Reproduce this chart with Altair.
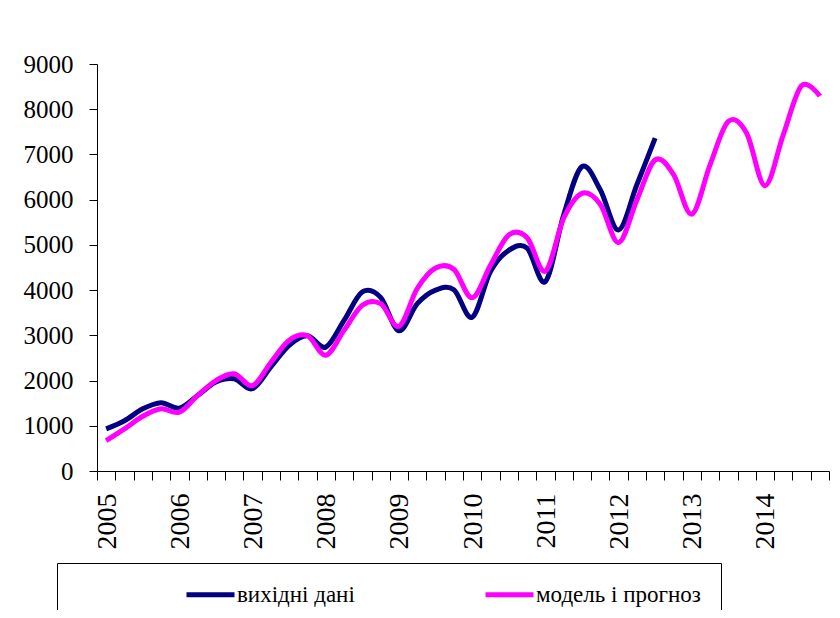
import altair as alt
import pandas as pd

# Quarterly series, 2005 Q1 .. 2014 Q4
years = list(range(2005, 2015))
quarters = ["I", "II", "III", "IV"]
series_names = ["вихідні дані", "модель і прогноз"]

actual = [930, 1110, 1375, 1510, 1390, 1670, 1970, 2040, 1820, 2300,
          2780, 2990, 2740, 3330, 3960, 3840, 3100, 3700, 4000, 4010,
          3400, 4410, 4880, 4930, 4190, 5660, 6730, 6220, 5330, 6330,
          7360]

model = [670, 930, 1210, 1375, 1300, 1670, 2000, 2150, 1890, 2400,
         2890, 2990, 2560, 3110, 3665, 3700, 3200, 4035, 4490, 4460,
         3830, 4550, 5220, 5160, 4420, 5590, 6140, 5900, 5050, 5990,
         6880, 6560, 5680, 6770, 7730, 7470, 6310, 7435, 8520, 8290]

periods = [f"{y} {q}" for y in years for q in quarters]

df_a = pd.DataFrame({"t": range(len(actual)), "period": periods[:len(actual)],
                     "value": actual, "series": series_names[0]})
df_m = pd.DataFrame({"t": range(len(model)), "period": periods[:len(model)],
                     "value": model, "series": series_names[1]})

n = len(periods)
tick_vals = [i - 0.5 for i in range(n + 1)]
label_expr = ("((datum.value + 0.5) % 4 == 0 && datum.value < " + str(n - 1) +
              ") ? '' + (" + str(years[0]) + " + (datum.value + 0.5) / 4) : ''")

FONT = "Liberation Serif, DejaVu Serif, serif"

x = alt.X("t:Q",
          scale=alt.Scale(domain=[-0.5, n - 0.5], nice=False, zero=False),
          axis=alt.Axis(values=tick_vals, title=None, grid=False,
                        labelExpr=label_expr,
                        labelAngle=270, labelOffset=10, labelOverlap=False,
                        labelFont=FONT, labelFontSize=28,
                        labelColor="black", labelPadding=13,
                        tickSize=9, tickColor="black", domainColor="black",
                        tickWidth=1, domainWidth=1))
y = alt.Y("value:Q",
          scale=alt.Scale(domain=[0, 9000], nice=False),
          axis=alt.Axis(values=list(range(0, 9001, 1000)), format="d",
                        title=None, grid=False,
                        labelFont=FONT, labelFontSize=25,
                        labelColor="black", labelPadding=16,
                        tickSize=8, tickColor="black", domainColor="black",
                        tickWidth=1, domainWidth=1))
color = alt.Color("series:N",
                  scale=alt.Scale(domain=series_names, range=["#000080", "#FF00FF"]),
                  legend=alt.Legend(title=None, orient="none", direction="horizontal",
                                    legendX=-40, legendY=499,
                                    symbolType="M-4,0H4", symbolStrokeWidth=5,
                                    symbolSize=144, symbolOffset=122,
                                    labelFont=FONT, labelFontSize=23,
                                    labelColor="black", labelOffset=15,
                                    labelLimit=400,
                                    columnPadding=21, padding=20,
                                    strokeColor="black", fillColor="white"))

line_a = alt.Chart(df_a).mark_line(strokeWidth=5, interpolate="cardinal").encode(x=x, y=y, color=color)
line_m = alt.Chart(df_m).mark_line(strokeWidth=5, interpolate="cardinal").encode(x=x, y=y, color=color)

chart = alt.layer(line_a, line_m).properties(
    width=732, height=407,
    background="white",
    autosize=alt.AutoSizeParams(type="none"),
    padding={"left": 89, "top": 56, "right": 3, "bottom": 139},
).configure_view(stroke=None)

chart.save("out.html", embed_options={"renderer": "svg", "actions": False})
